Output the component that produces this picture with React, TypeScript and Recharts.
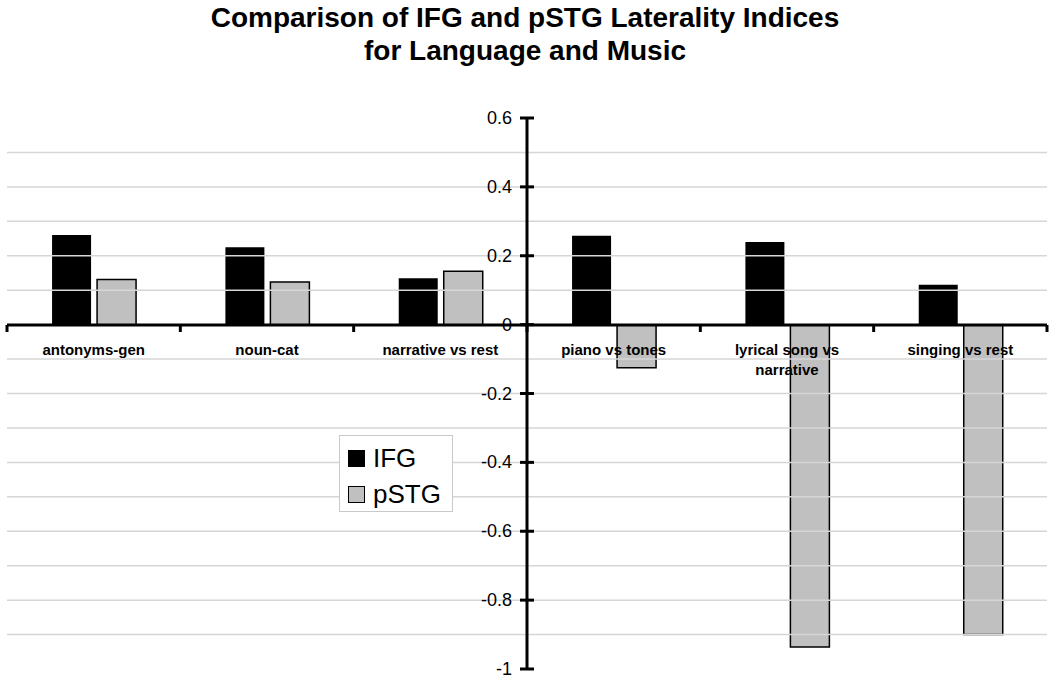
import React from "react";
import { BarChart, Bar, XAxis, YAxis, ReferenceLine, Legend } from "recharts";

const categories = [
  "antonyms-gen",
  "noun-cat",
  "narrative vs rest",
  "piano vs tones",
  "lyrical song vs narrative",
  "singing vs rest",
];
const ifgValues = [0.26, 0.225, 0.135, 0.258, 0.24, 0.116];
const pstgValues = [0.131, 0.124, 0.155, -0.125, -0.936, -0.9];
const yTicks = [0.6, 0.4, 0.2, 0, -0.2, -0.4, -0.6, -0.8, -1];
const gridValues = [0.5, 0.4, 0.3, 0.2, 0.1, -0.1, -0.2, -0.3, -0.4, -0.5, -0.6, -0.7, -0.8, -0.9];

const data = categories.map((name, i) => ({ name, IFG: ifgValues[i], pSTG: pstgValues[i] }));

const FONT = '"Liberation Sans", Arial, Helvetica, sans-serif';
const W = 1050;
const H = 685;
const M_LEFT = 7;
const M_RIGHT = 3;
const M_TOP = 118;
const M_BOTTOM = 16;
const ZERO_Y = 325;
const DOMAIN: [number, number] = [-1, 0.6];
const BAND = (W - M_LEFT - M_RIGHT) / categories.length;

// crude word wrap for the long category names
function wrapLabel(text: string, maxChars = 17) {
  const words = text.split(" ");
  const lines: string[] = [];
  let cur = "";
  for (const w of words) {
    const next = cur ? cur + " " + w : w;
    if (next.length > maxChars && cur) {
      lines.push(cur);
      cur = w;
    } else cur = next;
  }
  if (cur) lines.push(cur);
  return lines;
}

const CategoryTick = (props: any) => {
  const { x, y, payload, index } = props;
  const lines = wrapLabel(String(payload.value));
  return (
    <g>
      <line x1={x - BAND / 2} x2={x - BAND / 2} y1={y} y2={y + 7} stroke="#000" strokeWidth={3} />
      {index === categories.length - 1 && (
        <line x1={x + BAND / 2} x2={x + BAND / 2} y1={y} y2={y + 7} stroke="#000" strokeWidth={3} />
      )}
      <text x={x} y={y + 30} textAnchor="middle" fontFamily={FONT} fontWeight="bold" fontSize={15} fill="#000">
        {lines.map((l, i) => (
          <tspan key={i} x={x} dy={i === 0 ? 0 : 20}>
            {l}
          </tspan>
        ))}
      </text>
    </g>
  );
};

const ValueTick = (props: any) => {
  const { x, y, payload } = props;
  return (
    <g>
      <line x1={x - 7} x2={x + 7} y1={y} y2={y} stroke="#000" strokeWidth={3} />
      <text x={x - 15} y={y + 6} textAnchor="end" fontFamily={FONT} fontSize={18} fill="#000">
        {String(payload.value)}
      </text>
    </g>
  );
};

const LegendBox = (props: any) => {
  const { payload } = props;
  return (
    <div
      style={{
        width: 114,
        height: 77,
        boxSizing: "border-box",
        border: "1px solid #c8c8c8",
        background: "#fff",
        padding: "4px 0 0 8px",
        fontFamily: FONT,
      }}
    >
      {(payload || []).map((p: any) => (
        <div key={p.value} style={{ display: "flex", alignItems: "center", height: 36 }}>
          <span
            style={{
              display: "inline-block",
              width: 17,
              height: 17,
              boxSizing: "border-box",
              background: p.color,
              border: "1.5px solid #000",
              marginRight: 8,
            }}
          />
          <span style={{ fontSize: 26, color: "#000", lineHeight: "26px" }}>{p.value}</span>
        </div>
      ))}
    </div>
  );
};

export default function App() {
  return (
    <div style={{ position: "absolute", left: 0, top: 0, width: W, height: H, background: "#fff", fontFamily: FONT }}>
      <div
        style={{
          position: "absolute",
          top: 1,
          left: 0,
          width: W,
          textAlign: "center",
          fontWeight: "bold",
          fontSize: 28,
          lineHeight: "33px",
          color: "#000",
        }}
      >
        Comparison of IFG and pSTG Laterality Indices
        <br />
        for Language and Music
      </div>

      {/* bars, gridlines and legend */}
      <div style={{ position: "absolute", left: 0, top: 0 }}>
        <BarChart
          width={W}
          height={H}
          data={data}
          margin={{ top: M_TOP, right: M_RIGHT, bottom: M_BOTTOM, left: M_LEFT }}
          barCategoryGap="26%"
          barGap={6}
        >
          <XAxis dataKey="name" hide />
          <YAxis hide domain={DOMAIN} type="number" />
          {gridValues.map((v) => (
            <ReferenceLine key={v} y={v} stroke="#d6d6d6" strokeWidth={1.5} />
          ))}
          <Bar dataKey="IFG" name="IFG" fill="#000" isAnimationActive={false} />
          <Bar dataKey="pSTG" name="pSTG" fill="#c0c0c0" stroke="#000" strokeWidth={1.5} isAnimationActive={false} />
          <Legend
            layout="vertical"
            align="center"
            verticalAlign="middle"
            content={<LegendBox />}
            wrapperStyle={{ left: 339, top: 435, width: 114, height: 77 }}
          />
        </BarChart>
      </div>

      {/* category axis drawn through the zero line */}
      <div style={{ position: "absolute", left: 0, top: 0 }}>
        <BarChart
          width={W}
          height={H}
          data={data}
          margin={{ top: M_TOP, right: M_RIGHT, bottom: H - ZERO_Y - 50, left: M_LEFT }}
        >
          <XAxis
            dataKey="name"
            height={50}
            interval={0}
            tickSize={0}
            tickMargin={0}
            tickLine={false}
            axisLine={{ stroke: "#000", strokeWidth: 3 }}
            tick={<CategoryTick />}
          />
          <YAxis hide domain={DOMAIN} type="number" allowDataOverflow />
        </BarChart>
      </div>

      {/* value axis in the middle of the chart */}
      <div style={{ position: "absolute", left: 467, top: 0 }}>
        <BarChart width={80} height={H} data={data} margin={{ top: M_TOP, right: 0, bottom: M_BOTTOM, left: 0 }}>
          <XAxis dataKey="name" hide />
          <YAxis
            width={60}
            type="number"
            domain={DOMAIN}
            allowDataOverflow
            ticks={yTicks}
            interval={0}
            tickSize={0}
            tickMargin={0}
            tickLine={false}
            axisLine={{ stroke: "#000", strokeWidth: 3 }}
            tick={<ValueTick />}
          />
        </BarChart>
      </div>
    </div>
  );
}
